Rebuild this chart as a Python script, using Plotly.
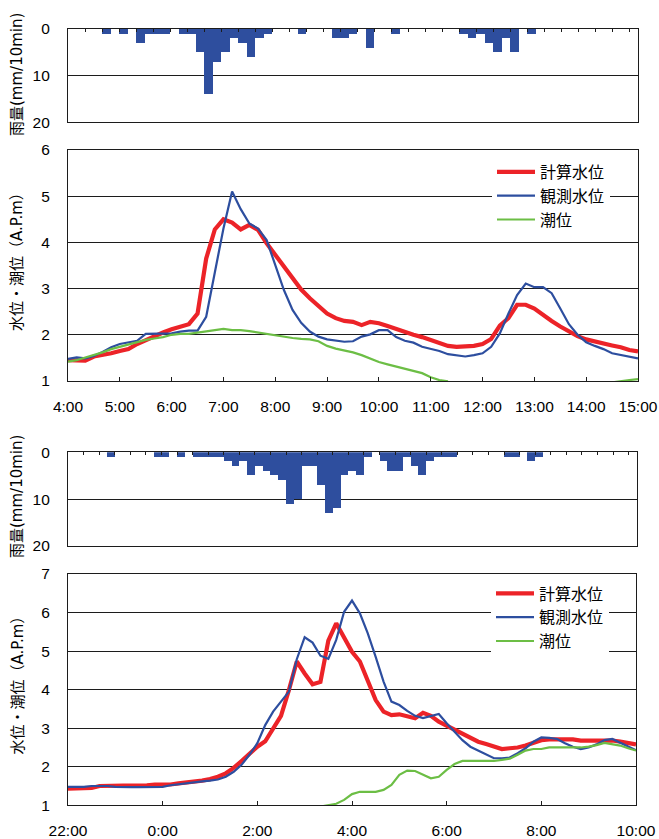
import pandas as pd
import plotly.graph_objects as go

# ---------------- data ----------------
# top event: 4:00 - 15:00, 10-minute steps
rain_top = [0, 0, 0, 0, 1, 0, 1, 0, 3, 1, 1, 1, 0, 1, 1, 5, 14, 7, 5, 2,
            3, 6, 2, 1, 0, 0, 0, 1, 0, 0, 0, 2, 2, 1, 0, 4, 0, 0, 1, 0,
            0, 0, 0, 0, 0, 0, 1, 2, 1, 3, 5, 2, 5, 0, 1, 0, 0, 0, 0, 0,
            0, 0, 0, 0, 0, 0, 0]

calc_top = [1.45, 1.44, 1.44, 1.53, 1.56, 1.60,
            1.65, 1.69, 1.80, 1.89, 1.96, 2.05,
            2.12, 2.18, 2.23, 2.46, 3.65, 4.28,
            4.50, 4.43, 4.28, 4.38, 4.27, 3.98,
            3.73, 3.47, 3.22, 2.98, 2.79, 2.61,
            2.46, 2.36, 2.30, 2.28, 2.21, 2.28,
            2.25, 2.19, 2.12, 2.06, 2.00, 1.95,
            1.89, 1.82, 1.76, 1.74, 1.74, 1.76,
            1.80, 1.91, 2.20, 2.36, 2.65, 2.65,
            2.57, 2.43, 2.30, 2.18, 2.07, 1.97,
            1.90, 1.85, 1.80, 1.77, 1.73, 1.67,
            1.64]

obs_top = [1.48, 1.51, 1.49, 1.54, 1.63, 1.73,
           1.80, 1.84, 1.87, 2.02, 2.02, 2.02,
           2.03, 2.07, 2.09, 2.09, 2.39, 3.35,
           4.30, 5.10, 4.72, 4.41, 4.30, 4.05,
           3.51, 2.97, 2.54, 2.26, 2.07, 1.96,
           1.90, 1.87, 1.85, 1.86, 1.96, 2.01,
           2.10, 2.10, 1.95, 1.87, 1.83, 1.74,
           1.69, 1.65, 1.58, 1.56, 1.53, 1.56,
           1.60, 1.74, 2.03, 2.46, 2.86, 3.11,
           3.03, 3.03, 2.90, 2.57, 2.23, 2.00,
           1.84, 1.76, 1.69, 1.60, 1.56, 1.53,
           1.49]

tide_top = [1.42, 1.45, 1.51, 1.56, 1.62, 1.69,
            1.74, 1.80, 1.84, 1.89, 1.92, 1.95,
            2.00, 2.02, 2.02, 2.05, 2.07, 2.10,
            2.13, 2.10, 2.10, 2.08, 2.05, 2.01,
            1.98, 1.95, 1.93, 1.91, 1.90, 1.86,
            1.76, 1.70, 1.66, 1.62, 1.56, 1.49,
            1.41, 1.36, 1.31, 1.26, 1.22, 1.17,
            1.08, 1.02, 0.99, None, None, None,
            None, None, None, None, None, None,
            None, None, None, None, None, None,
            None, None, None, 0.97, 1.00, 1.02,
            1.04]

# bottom event: 22:00 - 10:00, 10-minute steps
rain_bot = [0, 0, 0, 0, 0, 1, 0, 0, 0, 0, 0, 1, 1, 0, 1, 0, 1, 1, 1, 1,
            2, 3, 2, 5, 3, 4, 5, 6, 11, 10, 3, 3, 7, 13, 12, 5, 4, 5, 1, 0,
            2, 4, 4, 1, 3, 5, 2, 1, 1, 1, 0, 0, 0, 0, 0, 0, 1, 1, 0, 2,
            1, 0, 0, 0, 0, 0, 0, 0, 0, 0, 0, 0, 0]

calc_bot = [1.43, 1.43, 1.43, 1.45, 1.50, 1.51,
            1.51, 1.51, 1.51, 1.51, 1.52, 1.54,
            1.54, 1.54, 1.57, 1.59, 1.60, 1.64,
            1.68, 1.74, 1.83, 1.97, 2.15, 2.34,
            2.52, 2.66, 2.98, 3.32, 3.99, 4.73,
            4.42, 4.14, 4.20, 5.27, 5.72, 5.37,
            4.98, 4.73, 4.25, 3.73, 3.43, 3.34,
            3.36, 3.30, 3.26, 3.40, 3.32, 3.17,
            3.06, 2.95, 2.84, 2.76, 2.65, 2.59,
            2.52, 2.46, 2.48, 2.50, 2.55, 2.62,
            2.69, 2.71, 2.71, 2.71, 2.71, 2.68,
            2.68, 2.68, 2.68, 2.68, 2.65, 2.61,
            2.58]

obs_bot = [1.48, 1.48, 1.48, 1.50, 1.50, 1.50,
           1.48, 1.47, 1.47, 1.47, 1.47, 1.47,
           1.48, 1.52, 1.55, 1.57, 1.60, 1.62,
           1.64, 1.67, 1.74, 1.87, 2.05, 2.31,
           2.61, 3.08, 3.43, 3.69, 3.95, 4.79,
           5.36, 5.22, 4.88, 4.80, 5.29, 6.02,
           6.31, 5.98, 5.46, 4.85, 4.21, 3.69,
           3.60, 3.45, 3.32, 3.26, 3.32, 3.37,
           3.13, 2.91, 2.69, 2.52, 2.42, 2.32,
           2.22, 2.22, 2.24, 2.35, 2.48, 2.65,
           2.76, 2.75, 2.72, 2.61, 2.52, 2.46,
           2.50, 2.58, 2.69, 2.72, 2.62, 2.52,
           2.43]

tide_bot = [None] * 32 + [
            0.97, 1.00, 1.04, 1.14,
            1.29, 1.35, 1.35, 1.35, 1.40, 1.53,
            1.79, 1.90, 1.89, 1.80, 1.70, 1.74,
            1.92, 2.07, 2.15, 2.15, 2.15, 2.15,
            2.15, 2.18, 2.21, 2.31, 2.42, 2.46,
            2.46, 2.50, 2.50, 2.50, 2.50, 2.50,
            2.52, 2.56, 2.62, 2.59, 2.55, 2.48,
            2.42]

series_names = ["計算水位", "観測水位", "潮位"]
rain_title = "雨量(mm/10min)"
level_title = "水位・潮位（A.P.m）"

times_top = pd.date_range("2000-01-01 04:00", "2000-01-01 15:00", freq="10min")
times_bot = pd.date_range("1999-12-31 22:00", "2000-01-01 10:00", freq="10min")
rain_cat_top = [t.strftime("%H:%M") for t in times_top]
rain_cat_bot = [t.strftime("%d %H:%M") for t in times_bot]

# ---------------- style ----------------
W, H = 659, 839
RED, BLUE, GREEN, BAR = "#EC2328", "#2D4E9F", "#6CBE45", "#2E4E9E"
INK = "#1c1c1c"
LAT = "Liberation Sans, Arial, sans-serif"
CJK = "Noto Sans CJK JP, sans-serif"


def sx(x):   # screen px -> paper x
    return x / W


def sy(y):   # screen px -> paper y
    return 1 - y / H


fig = go.Figure()

# rain bars
fig.add_trace(go.Bar(x=rain_cat_top, y=rain_top, width=1, marker=dict(color=BAR, line=dict(width=0)),
                     xaxis="x", yaxis="y", showlegend=False))
fig.add_trace(go.Bar(x=rain_cat_bot, y=rain_bot, width=1, marker=dict(color=BAR, line=dict(width=0)),
                     xaxis="x3", yaxis="y3", showlegend=False))

# water level lines
for vals, col, wid, name in [(calc_top, RED, 4.2, series_names[0]),
                             (obs_top, BLUE, 2.2, series_names[1]),
                             (tide_top, GREEN, 2.2, series_names[2])]:
    fig.add_trace(go.Scatter(x=times_top, y=vals, mode="lines", name=name,
                             line=dict(color=col, width=wid), xaxis="x2", yaxis="y2",
                             legend="legend", connectgaps=False))
for vals, col, wid, name in [(calc_bot, RED, 4.2, series_names[0]),
                             (obs_bot, BLUE, 2.2, series_names[1]),
                             (tide_bot, GREEN, 2.2, series_names[2])]:
    fig.add_trace(go.Scatter(x=times_bot, y=vals, mode="lines", name=name,
                             line=dict(color=col, width=wid), xaxis="x4", yaxis="y4",
                             legend="legend2", connectgaps=False))

common_line = dict(showline=True, mirror=True, linecolor=INK, linewidth=1.2, automargin=False)
tickfont = dict(family=LAT, size=15.5, color="black")

rain_x = dict(type="category", side="top", ticks="inside", ticklen=3, tickcolor=INK,
              tickson="boundaries", showticklabels=False, showgrid=False, **common_line)
rain_y = dict(range=[20, 0], tickvals=[0, 10, 20], showgrid=True, gridcolor=INK, gridwidth=1,
              ticks="", tickfont=tickfont, ticklabelstandoff=14, zeroline=False, **common_line)
lvl_x = dict(type="date", tickformat="%-H:%M", ticks="inside", ticklen=4, tickcolor=INK,
             showgrid=False, tickfont=tickfont, ticklabelstandoff=11, **common_line)
lvl_y = dict(dtick=1, showgrid=True, gridcolor=INK, gridwidth=1, ticks="", tickfont=tickfont,
             ticklabelstandoff=14, zeroline=False, **common_line)

legend_font = dict(family=CJK, size=16, color="black")
fig.update_layout(
    width=W, height=H, margin=dict(l=0, r=0, t=0, b=0, autoexpand=False),
    paper_bgcolor="white", plot_bgcolor="white", bargap=0,
    xaxis=dict(domain=[sx(68), sx(638)], anchor="y", range=[-0.5, 66.5], **rain_x),
    yaxis=dict(domain=[sy(122.3), sy(29)], anchor="x", **rain_y),
    xaxis2=dict(domain=[sx(68), sx(638)], anchor="y2",
                range=[times_top[0], times_top[-1]], dtick=3600000, tick0=times_top[0], **lvl_x),
    yaxis2=dict(domain=[sy(381), sy(150)], anchor="x2", range=[1, 6], **lvl_y),
    xaxis3=dict(domain=[sx(68), sx(636.5)], anchor="y3", range=[-0.5, 72.5], **rain_x),
    yaxis3=dict(domain=[sy(546), sy(452.3)], anchor="x3", **rain_y),
    xaxis4=dict(domain=[sx(68), sx(636)], anchor="y4",
                range=[times_bot[0], times_bot[-1]], dtick=7200000, tick0=times_bot[0], **lvl_x),
    yaxis4=dict(domain=[sy(805.3), sy(574)], anchor="x4", range=[1, 7], **lvl_y),
    legend=dict(x=sx(492), y=sy(155), xanchor="left", yanchor="top", bgcolor="white",
                font=legend_font, borderwidth=0, itemwidth=38),
    legend2=dict(x=sx(491), y=sy(576.5), xanchor="left", yanchor="top", bgcolor="white",
                 font=legend_font, borderwidth=0, itemwidth=38),
    showlegend=True,
)

title_font = dict(family="DejaVu Sans, Noto Sans CJK JP, sans-serif", size=15, color="black")
for text, yc in [(rain_title, 75), (level_title, 258), (rain_title, 497), (level_title, 681.5)]:
    fig.add_annotation(text=text, x=sx(17), y=sy(yc), xref="paper", yref="paper",
                       textangle=-90, showarrow=False, font=title_font,
                       xanchor="center", yanchor="middle")

fig.write_html("out.html", config={"displayModeBar": False},
               post_script="document.body.style.margin='0';document.body.style.overflow='hidden';")
